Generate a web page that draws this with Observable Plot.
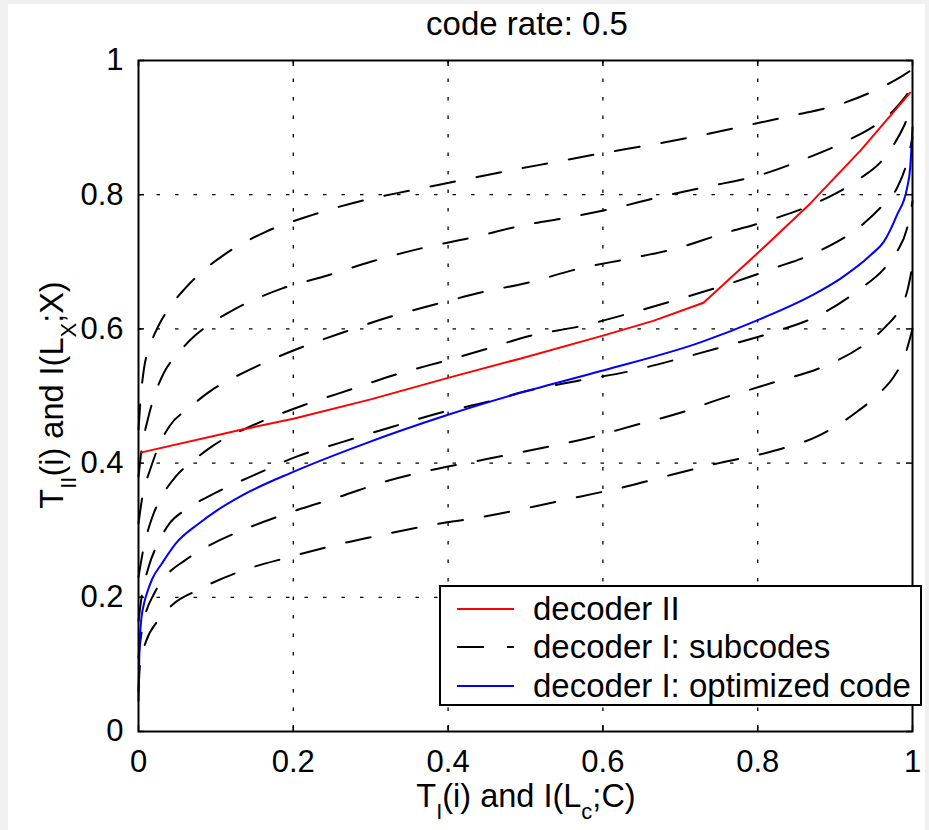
<!DOCTYPE html>
<html><head><meta charset="utf-8">
<script src="https://cdn.jsdelivr.net/npm/d3@7"></script>
<script src="https://cdn.jsdelivr.net/npm/@observablehq/plot@0.6"></script>
<style>
html,body{margin:0;padding:0;background:#f0f0f0;}
#wrap{position:relative;width:929px;height:830px;overflow:hidden;}
#paper{position:absolute;left:8px;top:4px;right:4px;bottom:0;background:#fff;}
#chart{position:absolute;left:0;top:0;}
</style></head><body>
<div id="wrap"><div id="paper"></div><div id="chart"></div></div>
<script>
const titleText = "code rate: 0.5";
const xTicks = [0, 0.2, 0.4, 0.6, 0.8, 1];
const xTickLabels = ["0", "0.2", "0.4", "0.6", "0.8", "1"];
const yTicks = [0, 0.2, 0.4, 0.6, 0.8, 1];
const yTickLabels = ["0", "0.2", "0.4", "0.6", "0.8", "1"];
const gridValues = [0.2, 0.4, 0.6, 0.8];
const seriesNames = ["decoder II", "decoder I: subcodes", "decoder I: optimized code"];
const seriesColors = ["#ff0000", "#000000", "#0000ff"];

const decoderII = [[0.004,0.416],[0.134,0.45],[0.2,0.466],[0.3,0.495],[0.4,0.527],[0.494,0.556],[0.6,0.59],[0.665,0.612],[0.73,0.639],[0.8,0.713],[0.868,0.787],[0.933,0.866],[0.997,0.952]];
const optimizedCode = [[0,0.046],[0.001,0.11],[0.003,0.16],[0.007,0.19],[0.012,0.21],[0.018,0.228],[0.03,0.25],[0.048,0.28],[0.078,0.31],[0.102,0.33],[0.134,0.352],[0.2,0.387],[0.29,0.428],[0.4,0.472],[0.494,0.505],[0.6,0.538],[0.726,0.58],[0.804,0.615],[0.87,0.65],[0.907,0.675],[0.946,0.71],[0.963,0.73],[0.98,0.77],[0.993,0.81],[0.997,0.84],[1,0.9]];

const subcode1 = [[0,0.45],[0.003,0.5],[0.007,0.54],[0.015,0.575],[0.026,0.605],[0.042,0.635],[0.06,0.66],[0.085,0.688],[0.11,0.71],[0.165,0.745],[0.225,0.77],[0.285,0.79],[0.35,0.806],[0.415,0.821],[0.475,0.835],[0.535,0.848],[0.6,0.862],[0.665,0.875],[0.725,0.888],[0.785,0.903],[0.845,0.918],[0.912,0.937],[0.945,0.952],[0.97,0.966],[0.987,0.977],[1,0.987]];
const subcode2 = [[0,0.38],[0.004,0.42],[0.012,0.465],[0.022,0.505],[0.033,0.535],[0.05,0.562],[0.073,0.59],[0.1,0.613],[0.125,0.63],[0.185,0.66],[0.245,0.68],[0.3,0.7],[0.365,0.72],[0.43,0.736],[0.5,0.755],[0.555,0.766],[0.615,0.78],[0.675,0.797],[0.735,0.812],[0.805,0.83],[0.86,0.853],[0.92,0.883],[0.95,0.902],[0.975,0.925],[0.99,0.945],[1,0.962]];
const subcode3 = [[0,0.31],[0.005,0.35],[0.015,0.39],[0.028,0.43],[0.04,0.455],[0.065,0.482],[0.09,0.505],[0.145,0.54],[0.205,0.57],[0.265,0.595],[0.325,0.618],[0.385,0.637],[0.445,0.655],[0.5,0.668],[0.57,0.69],[0.635,0.705],[0.695,0.72],[0.755,0.742],[0.815,0.762],[0.88,0.79],[0.932,0.824],[0.96,0.85],[0.976,0.875],[0.99,0.905],[1,0.935]];
const subcode4 = [[0,0.23],[0.006,0.27],[0.018,0.32],[0.03,0.35],[0.048,0.38],[0.07,0.403],[0.095,0.425],[0.155,0.46],[0.215,0.487],[0.275,0.51],[0.335,0.533],[0.395,0.552],[0.455,0.572],[0.5,0.588],[0.575,0.605],[0.64,0.625],[0.7,0.645],[0.765,0.668],[0.82,0.69],[0.883,0.718],[0.937,0.757],[0.962,0.785],[0.98,0.81],[0.992,0.845],[1,0.885]];
const subcode5 = [[0,0.165],[0.004,0.2],[0.013,0.245],[0.025,0.28],[0.04,0.31],[0.06,0.33],[0.09,0.35],[0.155,0.385],[0.205,0.41],[0.265,0.432],[0.325,0.453],[0.39,0.475],[0.45,0.491],[0.5,0.507],[0.565,0.522],[0.635,0.537],[0.7,0.556],[0.76,0.575],[0.823,0.596],[0.882,0.622],[0.934,0.661],[0.962,0.688],[0.98,0.715],[0.993,0.75],[1,0.79]];
const subcode6 = [[0,0.11],[0.003,0.14],[0.008,0.17],[0.02,0.205],[0.038,0.235],[0.06,0.255],[0.088,0.275],[0.145,0.305],[0.205,0.33],[0.26,0.35],[0.32,0.373],[0.38,0.39],[0.45,0.406],[0.51,0.42],[0.58,0.437],[0.64,0.456],[0.7,0.475],[0.75,0.495],[0.82,0.52],[0.883,0.543],[0.937,0.576],[0.965,0.603],[0.982,0.627],[0.994,0.66],[1,0.695]];
const subcode7 = [[0,0.06],[0.002,0.1],[0.01,0.135],[0.025,0.165],[0.045,0.19],[0.075,0.21],[0.135,0.24],[0.195,0.26],[0.255,0.278],[0.315,0.293],[0.375,0.307],[0.445,0.32],[0.51,0.335],[0.57,0.35],[0.63,0.365],[0.69,0.383],[0.75,0.4],[0.82,0.418],[0.879,0.441],[0.93,0.478],[0.958,0.505],[0.976,0.529],[0.99,0.56],[1,0.6]];

const subcodes = [subcode1, subcode2, subcode3, subcode4, subcode5, subcode6, subcode7];
const subRows = subcodes.flatMap((pts, k) => pts.map(([x, y]) => ({x, y, id: k})));
const redRows = decoderII.map(([x, y]) => ({x, y}));
const blueRows = optimizedCode.map(([x, y]) => ({x, y}));

const FONT = "'Liberation Sans', Arial, Helvetica, sans-serif";
const W = 929, H = 830, ML = 138, MR = 17, MT = 60, MB = 99;
const frameW = W - ML - MR, frameH = H - MT - MB;
const tickLen = 6;

const chart = Plot.plot({
  width: W, height: H,
  marginLeft: ML, marginRight: MR, marginTop: MT, marginBottom: MB,
  x: {domain: [0, 1], label: null},
  y: {domain: [0, 1], label: null},
  style: {background: "transparent", fontFamily: FONT, fontSize: "31px", color: "black", overflow: "visible"},
  marks: [
    Plot.ruleX(gridValues, {x: d => d, stroke: "black", strokeWidth: 1.3, strokeDasharray: "3.5,15"}),
    Plot.ruleY(gridValues, {y: d => d, stroke: "black", strokeWidth: 1.3, strokeDasharray: "3.5,15"}),
    Plot.line(subRows, {x: "x", y: "y", z: "id", stroke: seriesColors[1], strokeWidth: 2, strokeDasharray: "25,22", curve: "monotone-x"}),
    Plot.line(blueRows, {x: "x", y: "y", stroke: seriesColors[2], strokeWidth: 2, curve: "monotone-x"}),
    Plot.line(redRows, {x: "x", y: "y", stroke: seriesColors[0], strokeWidth: 2, curve: "linear"}),
    Plot.ruleX(xTicks, {x: d => d, stroke: "black", strokeWidth: 1.5, insetTop: frameH - tickLen}),
    Plot.ruleX(xTicks, {x: d => d, stroke: "black", strokeWidth: 1.5, insetBottom: frameH - tickLen}),
    Plot.ruleY(yTicks, {y: d => d, stroke: "black", strokeWidth: 1.5, insetRight: frameW - tickLen}),
    Plot.ruleY(yTicks, {y: d => d, stroke: "black", strokeWidth: 1.5, insetLeft: frameW - tickLen}),
    Plot.frame({stroke: "black", strokeWidth: 2}),
    Plot.axisX({ticks: xTicks, tickFormat: d => xTickLabels[xTicks.indexOf(d)], tickSize: 0, tickPadding: 18, label: null, fontSize: 31}),
    Plot.axisY({ticks: yTicks, tickFormat: d => yTickLabels[yTicks.indexOf(d)], tickSize: 0, tickPadding: 15, label: null, fontSize: 31})
  ]
});
document.getElementById("chart").appendChild(chart);

const svg = d3.select(chart);
// title
svg.append("text").attr("x", 527).attr("y", 35).attr("text-anchor", "middle")
  .attr("font-family", FONT).attr("font-size", 33).attr("fill", "black").text(titleText);

// x label
const xl = svg.append("text").attr("x", 526).attr("y", 807).attr("text-anchor", "middle")
  .attr("font-family", FONT).attr("font-size", 32.5).attr("fill", "black");
xl.append("tspan").text("T");
xl.append("tspan").attr("dy", 12).attr("font-size", 22).text("I");
xl.append("tspan").attr("dy", -12).text("(i) and I(L");
xl.append("tspan").attr("dy", 12).attr("font-size", 22).text("c");
xl.append("tspan").attr("dy", -12).text(";C)");

// y label
const yl = svg.append("text").attr("transform", "translate(63,395) rotate(-90)").attr("text-anchor", "middle")
  .attr("font-family", FONT).attr("font-size", 32.5).attr("fill", "black");
yl.append("tspan").text("T");
yl.append("tspan").attr("dy", 13).attr("font-size", 22).text("II");
yl.append("tspan").attr("dy", -13).text("(i) and I(L");
yl.append("tspan").attr("dy", 13).attr("font-size", 22).text("X");
yl.append("tspan").attr("dy", -13).text(";X)");

// legend
const lg = svg.append("g").attr("text-anchor", "start");
lg.append("rect").attr("x", 440).attr("y", 586).attr("width", 481).attr("height", 119)
  .attr("fill", "white").attr("stroke", "black").attr("stroke-width", 2);
const rowY = [609, 647, 686];
const dashes = [null, "27,23", null];
seriesNames.forEach((name, i) => {
  const ln = lg.append("line").attr("x1", 457).attr("x2", 514).attr("y1", rowY[i]).attr("y2", rowY[i])
    .attr("stroke", seriesColors[i]).attr("stroke-width", 2);
  if (dashes[i]) ln.attr("stroke-dasharray", dashes[i]);
  lg.append("text").attr("x", 533).attr("y", rowY[i] + 11).attr("text-anchor", "start").attr("font-family", FONT)
    .attr("font-size", 33).attr("fill", "black").text(name);
});
</script>
</body></html>
